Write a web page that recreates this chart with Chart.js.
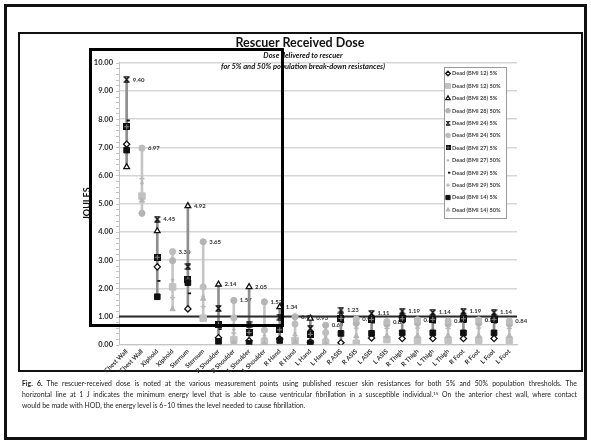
<!DOCTYPE html>
<html>
<head>
<meta charset="utf-8">
<script src="https://cdn.jsdelivr.net/npm/chart.js@4/dist/chart.umd.min.js"></script>
<style>
  html, body { margin: 0; padding: 0; background: #fff; }
  #page { position: relative; width: 591px; height: 444px; overflow: hidden; font-family: Lato, "Open Sans", sans-serif; color: #111; }
  #chart { position: absolute; left: 0; top: 0; }
  #frame { position: absolute; left: 4px; top: 4px; width: 577px; height: 430px; border: 3px solid #111; }
  #inner { position: absolute; left: 18px; top: 32px; width: 561px; height: 336px; border: 2px solid #111; }
  #title { position: absolute; left: 0; width: 600px; top: 37px; line-height: 12px; text-align: center; font-weight: bold; font-size: 12.5px; }
  .sub { position: absolute; left: 0; width: 606px; line-height: 9px; text-align: center; font-weight: bold; font-style: italic; font-size: 7.5px; }
  #focus { position: absolute; left: 89px; top: 48px; width: 189px; height: 273px; border: 3px solid #000; pointer-events: none; }
  #caption { position: absolute; left: 22px; top: 378px; width: 555px; font-size: 6.85px; line-height: 11px; color: #222; }
  #caption div { text-align: justify; text-align-last: justify; white-space: nowrap; }
  #caption div.last { text-align-last: left; }
  #caption sup { font-size: 4.5px; vertical-align: 2px; line-height: 0; }
</style>
</head>
<body>
<div id="page">
  <div id="frame"></div>
  <div id="inner"></div>
  <canvas id="chart" width="591" height="444"></canvas>
  <div id="title">Rescuer Received Dose</div>
  <div class="sub" style="top:51px">Dose delivered to rescuer</div>
  <div class="sub" style="top:62px">for 5% and 50% population break-down resistances)</div>
  <div id="focus"></div>
  <div id="caption">
    <div><b>Fig. 6.</b> The rescuer-received dose is noted at the various measurement points using published rescuer skin resistances for both 5% and 50% population thresholds. The</div>
    <div>horizontal line at 1 J indicates the minimum energy level that is able to cause ventricular fibrillation in a susceptible individual.<sup>15</sup> On the anterior chest wall, where contact</div>
    <div class="last">would be made with HOD, the energy level is 6–10 times the level needed to cause fibrillation.</div>
  </div>
</div>
<script>
// Measurement locations; each one gets a 5% column and a 50% column
const locations = ['Chest Wall', 'Xiphoid', 'Sternum', 'R Shoulder', 'L Shoulder', 'R Hand', 'L Hand',
                   'R ASIS', 'L ASIS', 'R Thigh', 'L Thigh', 'R Foot', 'L Foot'];

// Dose (J) with 5% population break-down resistance
const bmi12_5 = [7.11, 2.76, 1.27, 0.25, 0.14, 0.20, 0.09, 0.07, 0.24, 0.22, 0.22, 0.22, 0.22];
const bmi28_5 = [6.30, 4.03, 4.92, 2.14, 2.05, 1.34, 0.93, 1.02, 0.98, 1.02, 0.98, 1.02, 0.98];
const bmi24_5 = [9.40, 4.45, 2.77, 1.29, 0.70, 0.98, 0.58, 1.23, 1.11, 1.19, 1.14, 1.19, 1.14];
const bmi27_5 = [7.73, 3.10, 2.32, 0.72, 0.43, 0.53, 0.37, 0.93, 0.90, 0.92, 0.90, 0.92, 0.90];
const bmi29_5 = [7.95, 2.26, 1.82, 0.55, 0.33, 0.45, 0.28, 0.80, 0.78, 0.80, 0.78, 0.80, 0.78];
const bmi14_5 = [6.90, 1.70, 2.20, 0.12, 0.05, 0.15, 0.06, 0.40, 0.40, 0.42, 0.42, 0.42, 0.42];

// Dose (J) with 50% population break-down resistance
const bmi12_50 = [5.27, 2.05, 0.94, 0.18, 0.10, 0.15, 0.07, 0.05, 0.18, 0.16, 0.16, 0.16, 0.16];
const bmi28_50 = [4.66, 2.98, 3.65, 1.57, 1.52, 0.99, 0.69, 0.76, 0.73, 0.76, 0.73, 0.76, 0.73];
const bmi24_50 = [6.97, 3.30, 2.05, 0.95, 0.52, 0.73, 0.43, 0.91, 0.82, 0.88, 0.84, 0.88, 0.84];
const bmi27_50 = [5.73, 2.30, 1.72, 0.53, 0.32, 0.39, 0.27, 0.69, 0.67, 0.68, 0.67, 0.68, 0.67];
const bmi29_50 = [5.89, 1.67, 1.35, 0.41, 0.24, 0.33, 0.21, 0.59, 0.58, 0.59, 0.58, 0.59, 0.58];
const bmi14_50 = [5.11, 1.26, 1.63, 0.09, 0.04, 0.11, 0.04, 0.30, 0.30, 0.31, 0.31, 0.31, 0.31];

// Fibrillation threshold (J)
const vfThreshold = 1;

const yTicks = { min: 0, max: 10, step: 1 };

const series5 = [bmi12_5, bmi28_5, bmi24_5, bmi27_5, bmi29_5, bmi14_5];
const series50 = [bmi12_50, bmi28_50, bmi24_50, bmi27_50, bmi29_50, bmi14_50];

const categories = [];
locations.forEach(l => { categories.push(l, l); });

const place5 = vals => categories.map((_, i) => (i % 2 === 0 ? vals[i / 2] : null));
const place50 = vals => categories.map((_, i) => (i % 2 === 1 ? vals[(i - 1) / 2] : null));
const columnValues = i => (i % 2 === 0 ? series5 : series50).map(s => s[Math.floor(i / 2)]);
const ranges = categories.map((_, i) => {
  const v = columnValues(i);
  return [Math.min(...v), Math.max(...v)];
});

// Custom marker glyphs
function glyph(size, paint) {
  const c = document.createElement('canvas');
  c.width = size; c.height = size;
  paint(c.getContext('2d'), size);
  return c;
}
const hourglassX = glyph(7, (g) => {
  g.strokeStyle = '#111'; g.lineWidth = 1.2;
  g.beginPath();
  g.moveTo(1.2, 1); g.lineTo(5.8, 6);
  g.moveTo(5.8, 1); g.lineTo(1.2, 6);
  g.moveTo(0.5, 0.8); g.lineTo(6.5, 0.8);
  g.moveTo(0.5, 6.2); g.lineTo(6.5, 6.2);
  g.stroke();
});
const gridSquare = glyph(7, (g) => {
  g.fillStyle = '#111'; g.fillRect(0, 0, 7, 7);
  g.fillStyle = '#8a8a8a'; g.fillRect(3, 1, 1, 5); g.fillRect(1, 3, 5, 1);
});

const markerSets = [
  { label: 'Dead (BMI 12) 5%',  data: place5(bmi12_5),   pointStyle: 'rectRot',  pointRadius: 3.1, pointBackgroundColor: '#fff', pointBorderColor: '#111', pointBorderWidth: 1.3 },
  { label: 'Dead (BMI 12) 50%', data: place50(bmi12_50), pointStyle: 'rect',     pointRadius: 4.6, pointBackgroundColor: '#c2c2c2', pointBorderColor: '#c2c2c2', pointBorderWidth: 1 },
  { label: 'Dead (BMI 28) 5%',  data: place5(bmi28_5),   pointStyle: 'triangle', pointRadius: 3.3, pointBackgroundColor: '#fff', pointBorderColor: '#111', pointBorderWidth: 1.3 },
  { label: 'Dead (BMI 28) 50%', data: place50(bmi28_50), pointStyle: 'circle',   pointRadius: 3.1, pointBackgroundColor: '#b4b4b4', pointBorderColor: '#b4b4b4', pointBorderWidth: 1 },
  { label: 'Dead (BMI 24) 5%',  data: place5(bmi24_5),   pointStyle: hourglassX, pointRadius: 3.5, pointBackgroundColor: '#111', pointBorderColor: '#111', pointBorderWidth: 1 },
  { label: 'Dead (BMI 24) 50%', data: place50(bmi24_50), pointStyle: 'circle',   pointRadius: 3.1, pointBackgroundColor: '#bdbdbd', pointBorderColor: '#bdbdbd', pointBorderWidth: 1 },
  { label: 'Dead (BMI 27) 5%',  data: place5(bmi27_5),   pointStyle: gridSquare, pointRadius: 3.5, pointBackgroundColor: '#111', pointBorderColor: '#111', pointBorderWidth: 1 },
  { label: 'Dead (BMI 27) 50%', data: place50(bmi27_50), pointStyle: 'cross',    pointRadius: 1.8, pointBackgroundColor: '#b0b0b0', pointBorderColor: '#b0b0b0', pointBorderWidth: 1.1 },
  { label: 'Dead (BMI 29) 5%',  data: place5(bmi29_5),   pointStyle: 'dash',     pointRadius: 3.2, pointBackgroundColor: '#111', pointBorderColor: '#111', pointBorderWidth: 1.8 },
  { label: 'Dead (BMI 29) 50%', data: place50(bmi29_50), pointStyle: 'cross',    pointRadius: 2.6, pointBackgroundColor: '#b8b8b8', pointBorderColor: '#b8b8b8', pointBorderWidth: 1.3 },
  { label: 'Dead (BMI 14) 5%',  data: place5(bmi14_5),   pointStyle: 'rect',     pointRadius: 4.0, pointBackgroundColor: '#111', pointBorderColor: '#111', pointBorderWidth: 1 },
  { label: 'Dead (BMI 14) 50%', data: place50(bmi14_50), pointStyle: 'triangle', pointRadius: 3.1, pointBackgroundColor: '#b6b6b6', pointBorderColor: '#b6b6b6', pointBorderWidth: 1 }
].map((d, k) => Object.assign({
  type: 'line', showLine: false, pointHoverRadius: d.pointRadius, order: 12 - k
}, d));

// Value of the highest mark in each column, written beside it
const maxLabels = {
  id: 'maxLabels',
  beforeDatasetsDraw(chart) {
    const { ctx, scales: { x, y } } = chart;
    ctx.save();
    ctx.font = 'bold 6px Lato, sans-serif';
    ctx.fillStyle = '#333';
    ctx.textBaseline = 'middle';
    ranges.forEach((r, i) => {
      ctx.fillText(r[1].toFixed(2), x.getPixelForValue(i) + 6, y.getPixelForValue(r[1]));
    });
    ctx.restore();
  }
};

// 1 J fibrillation threshold across the plot, drawn over the range lines
const thresholdLine = {
  id: 'thresholdLine',
  afterDatasetDraw(chart, args) {
    if (args.meta.type !== 'bar') return;
    const { ctx, chartArea, scales: { y } } = chart;
    const py = y.getPixelForValue(vfThreshold);
    ctx.save();
    ctx.strokeStyle = '#2a2a2a';
    ctx.lineWidth = 2;
    ctx.beginPath();
    ctx.moveTo(chartArea.left, py);
    ctx.lineTo(chartArea.right, py);
    ctx.stroke();
    ctx.restore();
  }
};

// Minor tick marks along the value axis
const minorTicks = {
  id: 'minorTicks',
  afterDraw(chart) {
    const { ctx, chartArea, scales: { y } } = chart;
    ctx.save();
    ctx.strokeStyle = '#c4c4c4';
    ctx.lineWidth = 1;
    for (let v = 0; v <= yTicks.max + 1e-9; v += 0.2) {
      const py = Math.round(y.getPixelForValue(v)) + 0.5;
      ctx.beginPath();
      ctx.moveTo(chartArea.left - 3, py);
      ctx.lineTo(chartArea.left, py);
      ctx.stroke();
    }
    ctx.restore();
  }
};

// Boxed legend sitting inside the plot
const boxedLegend = {
  id: 'boxedLegend',
  afterDraw(chart) {
    const { ctx } = chart;
    const box = { x: 444, y: 67, w: 62, h: 151 };
    ctx.save();
    ctx.fillStyle = '#fff';
    ctx.fillRect(box.x, box.y, box.w, box.h);
    ctx.strokeStyle = '#9a9a9a';
    ctx.lineWidth = 1;
    ctx.strokeRect(box.x + 0.5, box.y + 0.5, box.w, box.h);
    ctx.font = 'bold 5.6px Lato, sans-serif';
    ctx.textBaseline = 'middle';
    markerSets.forEach((ds, i) => {
      const cy = box.y + 6.5 + i * 12.4;
      const mx = box.x + 4;
      ctx.save();
      ctx.fillStyle = ds.pointBackgroundColor;
      ctx.strokeStyle = ds.pointBorderColor;
      ctx.lineWidth = ds.pointBorderWidth;
      const style = ds.pointStyle;
      if (typeof style !== 'string') {
        ctx.drawImage(style, mx - 2.5, cy - 2.5, 5, 5);
      } else if (Chart.helpers && Chart.helpers.drawPoint) {
        Chart.helpers.drawPoint(ctx, { pointStyle: style, radius: ds.pointRadius * 0.75, rotation: 0, borderWidth: ds.pointBorderWidth }, mx, cy);
      } else {
        ctx.fillRect(mx - 2, cy - 2, 4, 4);
      }
      ctx.restore();
      ctx.fillStyle = '#444';
      ctx.fillText(ds.label, box.x + 8, cy);
    });
    ctx.restore();
  }
};

new Chart(document.getElementById('chart'), {
  type: 'bar',
  data: {
    labels: categories,
    datasets: [
      {
        type: 'bar',
        label: 'range',
        data: ranges,
        backgroundColor: categories.map((_, i) => (i % 2 === 0 ? '#8e8e8e' : '#c6c6c6')),
        borderWidth: 0,
        barThickness: 2,
        order: 50
      },
      ...markerSets
    ]
  },
  options: {
    responsive: false,
    animation: false,
    devicePixelRatio: 1,
    layout: { padding: { left: 78, top: 62.7, right: 74, bottom: 0 } },
    plugins: {
      legend: { display: false },
      tooltip: { enabled: false },
      title: { display: false }
    },
    scales: {
      x: {
        type: 'category',
        offset: true,
        afterFit(s) { s.height = 99.3; },
        grid: { display: false, drawTicks: false },
        border: { display: true, color: '#c4c4c4', width: 1 },
        ticks: {
          autoSkip: false, minRotation: 45, maxRotation: 45, padding: 3,
          color: '#333', font: { family: 'Lato, sans-serif', size: 6.3, weight: 'bold' }
        }
      },
      y: {
        min: yTicks.min, max: yTicks.max,
        afterFit(s) { s.width = 41; },
        grid: { color: '#d6d6d6', lineWidth: 1.4, drawTicks: false },
        border: { display: true, color: '#c4c4c4', width: 1 },
        ticks: {
          stepSize: yTicks.step, padding: 6, color: '#2a2a2a',
          font: { family: 'Lato, sans-serif', size: 7.5, weight: 'bold' },
          callback: v => Number(v).toFixed(2)
        },
        title: {
          display: true, text: 'JOULES', color: '#111',
          padding: { top: 3.5, bottom: 0 },
          font: { family: 'Lato, sans-serif', size: 9, weight: 'bold' }
        }
      }
    }
  },
  plugins: [maxLabels, thresholdLine, minorTicks, boxedLegend]
});
</script>
</body>
</html>
